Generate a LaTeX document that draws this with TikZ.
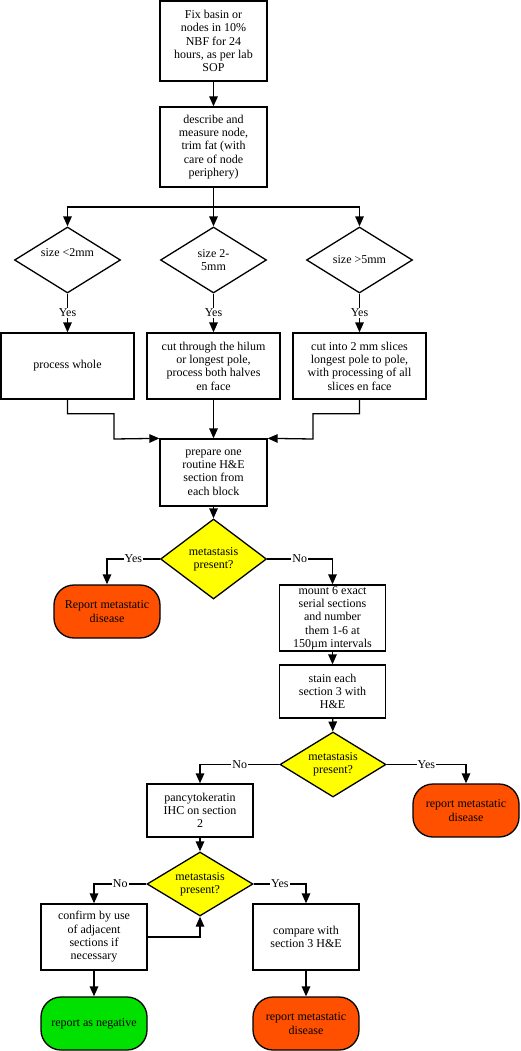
\documentclass[tikz,border=0pt]{standalone}
\usepackage{fontspec}
\setmainfont{LiberationSerif}[Extension=.ttf, UprightFont=*-Regular, BoldFont=*-Bold]
\usetikzlibrary{shapes.geometric,arrows.meta}
\definecolor{repred}{RGB}{255,80,0}
\definecolor{repgreen}{RGB}{0,225,0}
\definecolor{decyellow}{RGB}{255,255,0}
\tikzset{
  txt/.style={font=\rmfamily\fontsize{12}{13.3}\selectfont, align=center},
  stepbox/.style={txt, draw, rectangle, line width=1.3pt, inner sep=0pt, minimum width=#1, fill=white},
  stepbox/.default=106pt,
  dia/.style={draw, diamond, line width=1.3pt, inner sep=0pt, minimum width=106pt, fill=white},
  ydia/.style={dia, fill=decyellow},
  term/.style={txt, draw, rectangle, rounded corners=20pt, line width=1.3pt, inner sep=0pt, minimum width=106pt, minimum height=53pt},
  arr/.style={line width=1.3pt, -{Triangle[length=10pt,width=8.5pt]}},
  ln/.style={line width=1.3pt},
  lab/.style={txt, fill=white, inner sep=1pt}
}
\begin{document}
\begin{tikzpicture}[x=1pt,y=-1pt]
\useasboundingbox (0,0) rectangle (520,1051);
% top boxes
\node[stepbox=107pt, minimum height=80pt] (fix) at (213.5,41) {Fix basin or\\nodes in 10\%\\NBF for 24\\hours, as per lab\\SOP};
\node[stepbox=107pt, minimum height=80pt] (desc) at (213.5,147) {describe and\\measure node,\\trim fat (with\\care of node\\periphery)};
\coordinate (j1) at (213.5,207);
% size diamonds
\node[dia, minimum height=66pt, label={[txt,yshift=7pt]center:size <2mm}] (dA) at (67.5,260) {};
\node[dia, minimum height=66pt, label={[txt]center:size 2-\\5mm}] (dB) at (213.5,260) {};
\node[dia, minimum height=66pt, label={[txt]center:size >5mm}] (dC) at (359.5,260) {};
% process boxes
\node[stepbox=133pt, minimum height=66pt] (pA) at (67.5,366) {process whole};
\node[stepbox=133pt, minimum height=66pt] (pB) at (213.5,366) {cut through the hilum\\or longest pole,\\process both halves\\en face};
\node[stepbox=133pt, minimum height=66pt] (pC) at (359.5,366) {cut into 2 mm slices\\longest pole to pole,\\with processing of all\\slices en face};
% prepare
\node[stepbox=107pt, minimum height=67pt] (prep) at (213.5,472.5) {prepare one\\routine H\&E\\section from\\each block};
\node[ydia, minimum height=80pt, label={[txt]center:metastasis\\present?}] (m1) at (213.5,559) {};
\node[term, fill=repred] (r1) at (107,611.5) {Report metastatic\\disease};
\node[stepbox, minimum height=66pt] (mount) at (332.5,618) {mount 6 exact\\serial sections\\and number\\them 1-6 at\\150µm intervals};
\node[stepbox, minimum height=53pt] (stain) at (332.5,691.5) {stain each\\section 3 with\\H\&E};
\node[ydia, minimum height=65pt, label={[txt]center:metastasis\\present?}] (m2) at (333,764.5) {};
\node[stepbox, minimum height=53pt] (panc) at (200,810.5) {pancytokeratin\\IHC on section\\2};
\node[term, fill=repred] (r2) at (466,810.5) {report metastatic\\disease};
\node[ydia, minimum height=64pt, label={[txt]center:metastasis\\present?}] (m3) at (200,884) {};
\node[stepbox, minimum height=66pt] (conf) at (94,937) {confirm by use\\of adjacent\\sections if\\necessary};
\node[stepbox, minimum height=66pt] (comp) at (306,937) {compare with\\section 3 H\&E};
\node[term, fill=repgreen] (neg) at (94,1023.5) {report as negative};
\node[term, fill=repred] (r3) at (306,1023.5) {report metastatic\\disease};
% connectors
\draw[arr] (fix) -- (desc);
\draw[ln] (desc.south) -- (j1);
\draw[arr] (j1) -| (dA.north);
\draw[arr] (desc.south) -- (dB.north);
\draw[arr] (j1) -| (dC.north);
\draw[arr] (dA.south) -- node[lab]{Yes} (pA.north);
\draw[arr] (dB.south) -- node[lab]{Yes} (pB.north);
\draw[arr] (dC.south) -- node[lab]{Yes} (pC.north);
\draw[arr] (pA.south) -- ++(0,14) -| (114,439) -- (prep.north west);
\draw[arr] (pB.south) -- (prep.north);
\draw[arr] (pC.south) -- ++(0,14) -| (313,439) -- (prep.north east);
\draw[arr] (prep) -- (m1);
\draw[arr] (m1.west) -| node[lab, pos=0.25]{Yes} (r1.north);
\draw[arr] (m1.east) -| node[lab, pos=0.25]{No} (mount.north);
\draw[arr] (mount) -- (stain);
\draw[arr] (stain) -- (m2);
\draw[arr] (m2.west) -| node[lab, pos=0.25]{No} (panc.north);
\draw[arr] (m2.east) -| node[lab, pos=0.25]{Yes} (r2.north);
\draw[arr] (panc) -- (m3);
\draw[arr] (m3.west) -| node[lab, pos=0.25]{No} (conf.north);
\draw[arr] (m3.east) -| node[lab, pos=0.25]{Yes} (comp.north);
\draw[arr] (conf.east) -| (m3.south);
\draw[arr] (conf) -- (neg);
\draw[arr] (comp) -- (r3);
\end{tikzpicture}
\end{document}
